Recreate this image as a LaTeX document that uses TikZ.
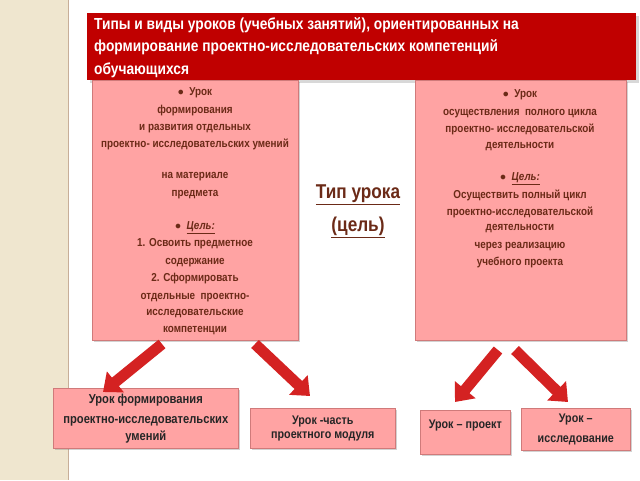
\documentclass[tikz,border=0pt]{standalone}
\usepackage{fontspec}
\setmainfont{Liberation Sans}[FakeStretch=0.86]
\usetikzlibrary{arrows.meta,shadows}
\definecolor{beige}{HTML}{EFE6CF}
\definecolor{titlered}{HTML}{C00000}
\definecolor{boxfill}{HTML}{FFA3A3}
\definecolor{boxline}{HTML}{D07A7A}
\definecolor{brown}{HTML}{6B2A17}
\definecolor{arrowred}{HTML}{D42222}
\tikzset{
  pbox/.style={draw=boxline,fill=boxfill,line width=0.6pt,drop shadow={opacity=0.35,shadow xshift=1.5pt,shadow yshift=-1.5pt}},
  ptext/.style={text=brown,font=\bfseries\fontsize{11.5}{17.6}\selectfont,align=center},
  btext/.style={text=black!85,align=center},
  barrow/.style={draw=arrowred,line width=11pt,-{Triangle[width=26pt,length=16pt]}},
}
\begin{document}
\begin{tikzpicture}[x=1pt,y=-1pt]
\useasboundingbox (0,0) rectangle (640,480);
\fill[white] (0,0) rectangle (640,480);
\fill[beige] (0,0) rectangle (68,480);
\draw[beige!70!brown,line width=1pt] (68,0) -- (68,480);
% title
\node[fill=titlered,minimum width=549pt,minimum height=67pt,anchor=north west,inner sep=0pt,drop shadow={opacity=0.3}] (title) at (87,13) {};
\node[anchor=north west,text=white,align=left,font=\bfseries\fontsize{16}{22.5}\selectfont,inner sep=0pt] (ttext) at (94,17) {Типы и виды уроков (учебных занятий), ориентированных на\\формирование проектно-исследовательских компетенций\\обучающихся};
% big boxes
\node[pbox,minimum width=206pt,minimum height=260pt,anchor=north west,inner sep=0pt] (lbox) at (92,80) {};
\node[pbox,minimum width=211pt,minimum height=260pt,anchor=north west,inner sep=0pt] (rbox) at (415,80) {};
\node[ptext,anchor=north] (ltext) at (195,84) {$\bullet$\ \ Урок\\формирования\\и развития отдельных\\[-1pt]проектно- исследовательских умений\\[14pt]на материале\\предмета\\[15pt]$\bullet$\ \ \textit{\underline{Цель:}}\\1. Освоить предметное\\содержание\\2. Сформировать\\отдельные\ \ проектно-\\[-2pt]исследовательские\\компетенции};
\node[ptext,anchor=north] (rtext) at (520,86) {$\bullet$\ \ Урок\\осуществления\ \ полного цикла\\проектно- исследовательской\\[-2pt]деятельности\\[15pt]$\bullet$\ \ \textit{\underline{Цель:}}\\Осуществить полный цикл\\[-1pt]проектно-исследовательской\\[-2pt]деятельности\\через реализацию\\учебного проекта};
% center
\node[text=brown,font=\bfseries\fontsize{20}{33}\selectfont,align=center] (mid) at (358,211) {\underline{Тип урока}\\\underline{(цель)}};
% bottom boxes
\node[pbox,minimum width=185pt,minimum height=60pt,anchor=north west,inner sep=0pt] (b1) at (53,388) {};
\node[btext,font=\bfseries\fontsize{13}{20}\selectfont] at (b1.center) {Урок формирования\\проектно-исследовательских\\[-3pt]умений};
\node[pbox,minimum width=145pt,minimum height=40pt,anchor=north west,inner sep=0pt] (b2) at (250,408) {};
\node[btext,font=\bfseries\fontsize{12.5}{14}\selectfont] at (b2.center) {Урок -часть\\проектного модуля};
\node[pbox,minimum width=90pt,minimum height=44pt,anchor=north west,inner sep=0pt] (b3) at (420,410) {};
\node[btext,font=\bfseries\fontsize{12.5}{14}\selectfont] at ([yshift=-15pt]b3.north) {Урок – проект};
\node[pbox,minimum width=109pt,minimum height=42pt,anchor=north west,inner sep=0pt] (b4) at (521,408) {};
\node[btext,font=\bfseries\fontsize{12.5}{20}\selectfont] at (b4.center) {Урок –\\исследование};
% arrows
\coordinate (a1s) at (162,344); \coordinate (a1e) at (103,392);
\coordinate (a2s) at (255,344); \coordinate (a2e) at (310,396);
\coordinate (a3s) at (498,350); \coordinate (a3e) at (455,402);
\coordinate (a4s) at (515,350); \coordinate (a4e) at (568,402);
\draw[barrow] (a1s) -- (a1e);
\draw[barrow] (a2s) -- (a2e);
\draw[barrow] (a3s) -- (a3e);
\draw[barrow] (a4s) -- (a4e);
\end{tikzpicture}
\end{document}
